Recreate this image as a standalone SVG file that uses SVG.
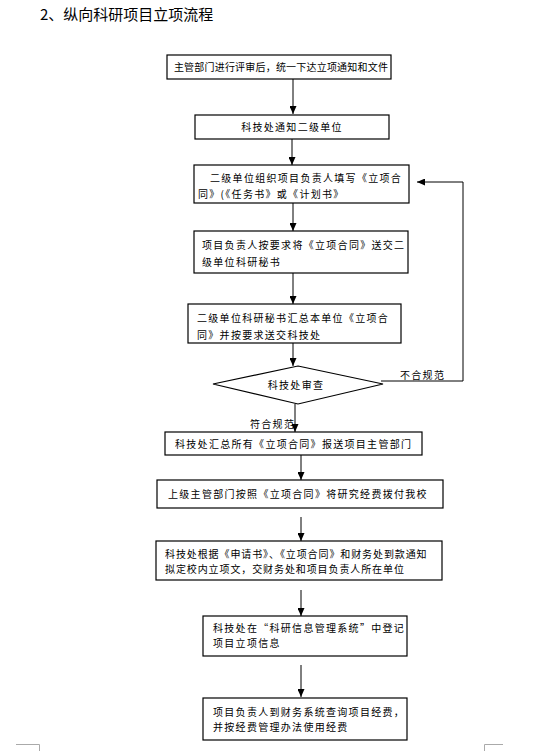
<svg xmlns="http://www.w3.org/2000/svg" width="538" height="751" viewBox="0 0 538 751">
<style>
.bx{fill:#fff;stroke:#000;stroke-width:1.2}
.t{font-family:"Noto Sans CJK SC","Noto Sans",sans-serif;font-size:10px;letter-spacing:1.3px;fill:#000}
.c{text-anchor:middle}
.ln{fill:none;stroke:#000;stroke-width:1}
.crop{fill:none;stroke:#aaa;stroke-width:1}
</style>
<defs>
<marker id="ah" markerUnits="userSpaceOnUse" markerWidth="8" markerHeight="7" refX="8" refY="3.5" orient="auto">
<path d="M0,0 L8,3.5 L0,7 z" fill="#000"/>
</marker>
</defs>
<rect width="538" height="751" fill="#fff"/>
<text x="40" y="20" font-family="'Noto Sans CJK SC','Noto Sans',sans-serif" font-size="15" fill="#000">2、纵向科研项目立项流程</text>

<g id="connectors">
<line class="ln" x1="293" y1="79" x2="293" y2="114" marker-end="url(#ah)"/>
<line class="ln" x1="292" y1="139" x2="292" y2="165" marker-end="url(#ah)"/>
<line class="ln" x1="293" y1="203" x2="293" y2="231" marker-end="url(#ah)"/>
<line class="ln" x1="293" y1="273" x2="293" y2="304" marker-end="url(#ah)"/>
<line class="ln" x1="293" y1="343" x2="293" y2="366" marker-end="url(#ah)"/>
<line class="ln" x1="295" y1="404" x2="295" y2="432" marker-end="url(#ah)"/>
<line class="ln" x1="301" y1="455" x2="301" y2="480" marker-end="url(#ah)"/>
<line class="ln" x1="301" y1="517" x2="301" y2="541" marker-end="url(#ah)"/>
<line class="ln" x1="301" y1="590" x2="301" y2="616" marker-end="url(#ah)"/>
<line class="ln" x1="301" y1="665" x2="301" y2="697" marker-end="url(#ah)"/>
<polyline class="ln" points="381,381 463,381 463,182 417,182" marker-end="url(#ah)"/>
<text class="t" x="400" y="379">不合规范</text>
<text class="t" x="250" y="428">符合规范</text>
</g>

<g id="n1">
<rect class="bx" x="167" y="55" width="224" height="24"/>
<text class="t c" x="281" y="71" style="letter-spacing:0.2px">主管部门进行评审后，统一下达立项通知和文件</text>
</g>
<g id="n2">
<rect class="bx" x="195" y="115" width="194" height="24"/>
<text class="t c" x="292" y="131">科技处通知二级单位</text>
</g>
<g id="n3">
<rect class="bx" x="194" y="165" width="215" height="38"/>
<text class="t" x="210" y="182">二级单位组织项目负责人填写《立项合</text>
<text class="t" x="198" y="198">同》(《任务书》或《计划书》</text>
</g>
<g id="n4">
<rect class="bx" x="194" y="231" width="214" height="42"/>
<text class="t" x="202" y="249">项目负责人按要求将《立项合同》送交二</text>
<text class="t" x="202" y="266">级单位科研秘书</text>
</g>
<g id="n5">
<rect class="bx" x="188" y="304" width="213" height="39"/>
<text class="t" x="197" y="322">二级单位科研秘书汇总本单位《立项合</text>
<text class="t" x="197" y="339">同》并按要求送交科技处</text>
</g>
<g id="n6">
<polygon class="bx" points="298,366 383,384 298,404 213,384"/>
<text class="t c" x="296" y="389">科技处审查</text>
</g>
<g id="n7">
<rect class="bx" x="165" y="432" width="257" height="23"/>
<text class="t" x="175" y="448">科技处汇总所有《立项合同》报送项目主管部门</text>
</g>
<g id="n8">
<rect class="bx" x="157" y="480" width="286" height="28"/>
<text class="t" x="168" y="498">上级主管部门按照《立项合同》将研究经费拨付我校</text>
</g>
<g id="n9">
<rect class="bx" x="156" y="541" width="286" height="39"/>
<text class="t" x="165" y="558" style="letter-spacing:0.9px">科技处根据《申请书》、《立项合同》和财务处到款通知</text>
<text class="t" x="165" y="573" style="letter-spacing:0.9px">拟定校内立项文，交财务处和项目负责人所在单位</text>
</g>
<g id="n10">
<rect class="bx" x="203" y="616" width="204" height="40"/>
<text class="t" x="213" y="632">科技处在“科研信息管理系统”中登记</text>
<text class="t" x="213" y="647">项目立项信息</text>
</g>
<g id="n11">
<rect class="bx" x="203" y="698" width="204" height="42"/>
<text class="t" x="213" y="716">项目负责人到财务系统查询项目经费，</text>
<text class="t" x="213" y="731">并按经费管理办法使用经费</text>
</g>

<polyline class="crop" points="16,744.5 39.5,744.5 39.5,751"/>
<polyline class="crop" points="484.5,751 484.5,744.5 503,744.5"/>
</svg>
